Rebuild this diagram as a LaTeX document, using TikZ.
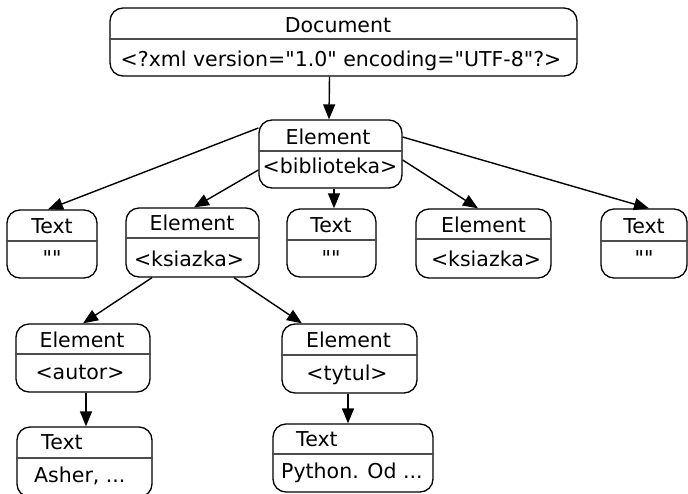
\documentclass[tikz,border=0pt]{standalone}
\usepackage{fontspec}
\setmainfont{DejaVu Sans}[Ligatures=TeXReset]
\usetikzlibrary{arrows.meta}
\tikzset{
  box/.style={draw=black, rounded corners=13pt, inner sep=0pt, line width=1.3pt},
  divline/.style={draw=black!70, line width=1.4pt},
  lbl/.style={anchor=base, inner sep=0pt, font=\fontsize{20.5pt}{22pt}\selectfont},
  lbll/.style={lbl, anchor=base west},
  arr/.style={draw=black, line width=1.4pt, -{Triangle[length=15pt,width=12pt]}}
}
\begin{document}
\begin{tikzpicture}[x=1pt,y=-1pt]
\useasboundingbox (0,0) rectangle (688,493);
% boxes
\node[box, minimum width=467pt, minimum height=68pt] (doc) at (343.5,42) {};
\node[box, minimum width=143pt, minimum height=68pt] (bib) at (330.5,154) {};
\node[box, minimum width=90pt, minimum height=68pt] (t1) at (52,244) {};
\node[box, minimum width=133pt, minimum height=69pt] (k1) at (192.5,242.5) {};
\node[box, minimum width=89pt, minimum height=68pt] (t2) at (331.5,243) {};
\node[box, minimum width=135pt, minimum height=69pt] (k2) at (483.5,243.5) {};
\node[box, minimum width=86pt, minimum height=69pt] (t3) at (644,243.5) {};
\node[box, minimum width=134pt, minimum height=68pt] (au) at (83,358) {};
\node[box, minimum width=135pt, minimum height=69pt] (ty) at (349.5,358.5) {};
\node[box, minimum width=135pt, minimum height=70pt] (as) at (84.5,462) {};
\node[box, minimum width=160pt, minimum height=68pt] (py) at (353,458) {};
% dividers
\draw[divline] (doc.west |- 0,39) -- (doc.east |- 0,39);
\draw[divline] (bib.west |- 0,151) -- (bib.east |- 0,151);
\draw[divline] (t1.west |- 0,241) -- (t1.east |- 0,241);
\draw[divline] (k1.west |- 0,238) -- (k1.east |- 0,238);
\draw[divline] (t2.west |- 0,240) -- (t2.east |- 0,240);
\draw[divline] (k2.west |- 0,239) -- (k2.east |- 0,239);
\draw[divline] (t3.west |- 0,241) -- (t3.east |- 0,241);
\draw[divline] (au.west |- 0,354) -- (au.east |- 0,354);
\draw[divline] (ty.west |- 0,355) -- (ty.east |- 0,355);
\draw[divline] (as.west |- 0,458) -- (as.east |- 0,458);
\draw[divline] (py.west |- 0,454) -- (py.east |- 0,454);
% labels
\node[lbl] (docA) at (338,32) {Document};
\node[lbl] (docB) at (341,66) {<?xml version="1.0" encoding="UTF-8"?>};
\node[lbl] (bibA) at (328,144) {Element};
\node[lbl] (bibB) at (330,173) {<biblioteka>};
\node[lbl] (t1A) at (52,233) {Text};
\node[lbl] (t1B) at (52,265) {""};
\node[lbl] (k1A) at (192,230) {Element};
\node[lbl] (k1B) at (189,266) {<ksiazka>};
\node[lbl] (t2A) at (331,232) {Text};
\node[lbl] (t2B) at (331,265) {""};
\node[lbl] (k2A) at (483.5,232) {Element};
\node[lbl] (k2B) at (486,266) {<ksiazka>};
\node[lbl] (t3A) at (644,233) {Text};
\node[lbl] (t3B) at (644,265) {""};
\node[lbl] (auA) at (82,347) {Element};
\node[lbl] (auB) at (80,379) {<autor>};
\node[lbl] (tyA) at (348.5,347) {Element};
\node[lbl] (tyB) at (347,380) {<tytul>};
\node[lbll] (asA) at (41,449) {Text};
\node[lbll] (asB) at (34,482) {Asher, ...};
\node[lbll] (pyA) at (296,446) {Text};
\node[lbll] (pyB) at (281,478) {Python. Od ...};
% connectors
\draw[arr] ([xshift=-14pt]doc.south) -- ([xshift=-1.5pt]bib.north);
\draw[arr] ([xshift=3.5pt]bib.south) -- ([xshift=2.5pt]t2.north);
\draw[arr] ([yshift=26pt]bib.west) -- ([xshift=-4pt]t1.north);
\draw[arr] ([yshift=-16pt]bib.west) -- ([xshift=1.5pt]k1.north);
\draw[arr] ([yshift=-6pt]bib.east) -- ([xshift=-5.5pt]k2.north);
\draw[arr] ([yshift=17pt]bib.east) -- ([xshift=5pt]t3.north);
\draw[arr] ([xshift=-40.5pt]k1.south) -- (au.north);
\draw[arr] ([xshift=41.5pt]k1.south) -- ([xshift=-47.5pt]ty.north);
\draw[arr] ([xshift=3pt]au.south) -- ([xshift=1.5pt]as.north);
\draw[arr] ([xshift=-1.5pt]ty.south) -- ([xshift=-5pt]py.north);
\end{tikzpicture}
\end{document}
